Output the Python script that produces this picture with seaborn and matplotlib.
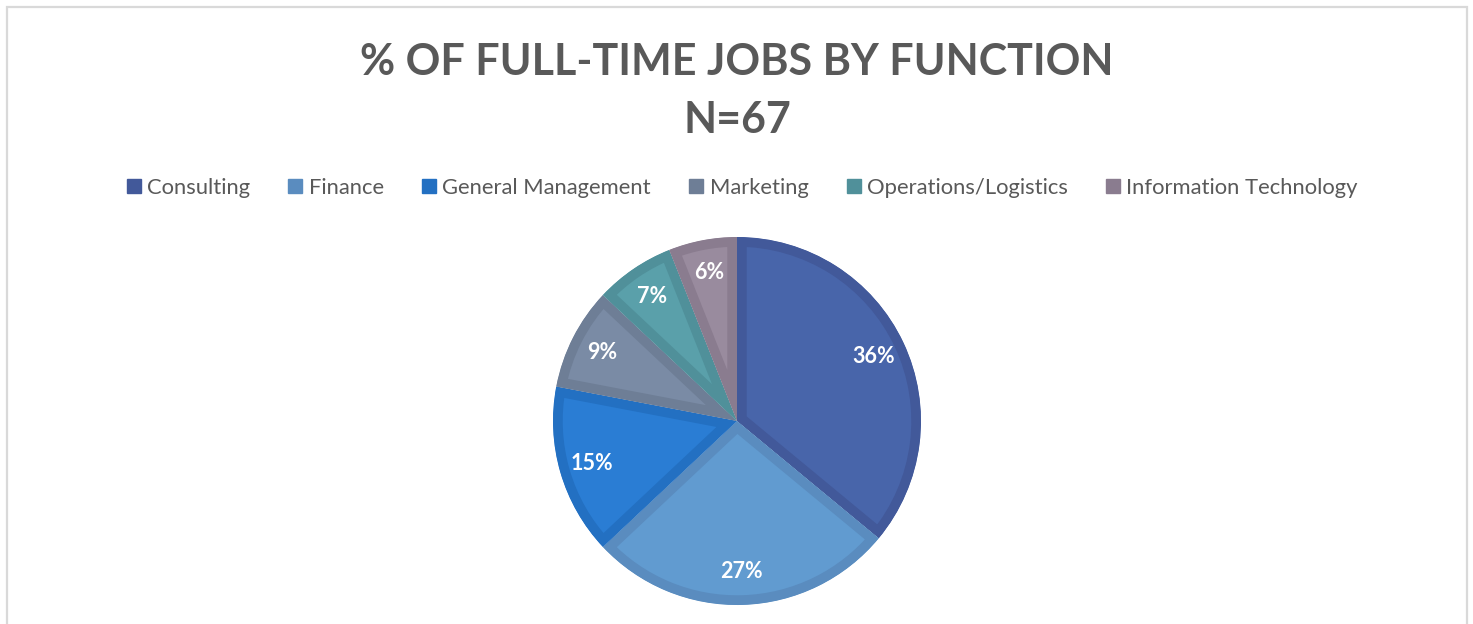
import matplotlib
matplotlib.use("Agg")
import matplotlib.pyplot as plt
import seaborn as sns
from matplotlib.patches import Rectangle
from matplotlib.lines import Line2D

# ---- data ----
categories = ["Consulting", "Finance", "General Management", "Marketing",
              "Operations/Logistics", "Information Technology"]
shares = [36, 27, 15, 9, 7, 6]
title_line1 = "% OF FULL-TIME JOBS BY FUNCTION"
title_line2 = "N=67"

# ---- style ----
fill_colors = ["#4865AA", "#619BD0", "#2A7DD4", "#7A8BA5", "#5AA0AA", "#998B9E"]
edge_colors = ["#42599A", "#5A8CBF", "#2370C2", "#6E7E96", "#50909A", "#8A7C8F"]
text_gray = "#595959"

sns.set_theme(style="white")
plt.rcParams["font.family"] = ["Lato", "DejaVu Sans"]

W, H = 1473, 624
fig = plt.figure(figsize=(W / 100, H / 100), dpi=100)
fig.patch.set_facecolor("white")

# outer chart border (bottom runs off the image)
fig.add_artist(Rectangle((6.5 / W, -0.2), (1467 - 6.5) / W, (H - 7) / H + 0.2,
                         transform=fig.transFigure, fill=False,
                         edgecolor="#D9D9D9", lw=1.6))

# pie axes: centre (737, 421) px, radius 184 px
cx, cy, R = 737, 421, 184
half = 190
ax = fig.add_axes([(cx - half) / W, (H - cy - half) / H, 2 * half / W, 2 * half / H])

wedges, _, autotexts = ax.pie(
    shares, colors=fill_colors, startangle=90, counterclock=False,
    radius=1.0, autopct=lambda p: f"{p:.0f}%", pctdistance=0.82,
    wedgeprops=dict(linewidth=14, joinstyle="round"),
    textprops=dict(color="white", fontsize=15.5, fontweight="bold"),
)
for w, ec in zip(wedges, edge_colors):
    w.set_edgecolor(ec)
    w.set_clip_on(True)
    w.set_clip_path(w)  # keep the border on the inside of each slice

lim = half / R
ax.set_xlim(-lim, lim)
ax.set_ylim(-lim, lim)
ax.set_aspect("equal")
ax.axis("off")

# titles
fig.text(cx / W, 1 - 62 / H, title_line1, ha="center", va="center",
         fontsize=31, fontweight="bold", color=text_gray)
fig.text(cx / W, 1 - 120 / H, title_line2, ha="center", va="center",
         fontsize=31, fontweight="bold", color=text_gray)

# legend
handles = [Line2D([0], [0], marker="s", linestyle="none", markersize=10,
                  markerfacecolor=c, markeredgecolor=c) for c in edge_colors]
leg = fig.legend(handles, categories, loc="center", ncol=6,
                 bbox_to_anchor=(742 / W, 1 - 188 / H), frameon=False,
                 fontsize=15.8, handlelength=0.7, handletextpad=0.25,
                 columnspacing=1.72, borderaxespad=0)
for t in leg.get_texts():
    t.set_color(text_gray)

fig.savefig("out.png", dpi=100, facecolor="white")
